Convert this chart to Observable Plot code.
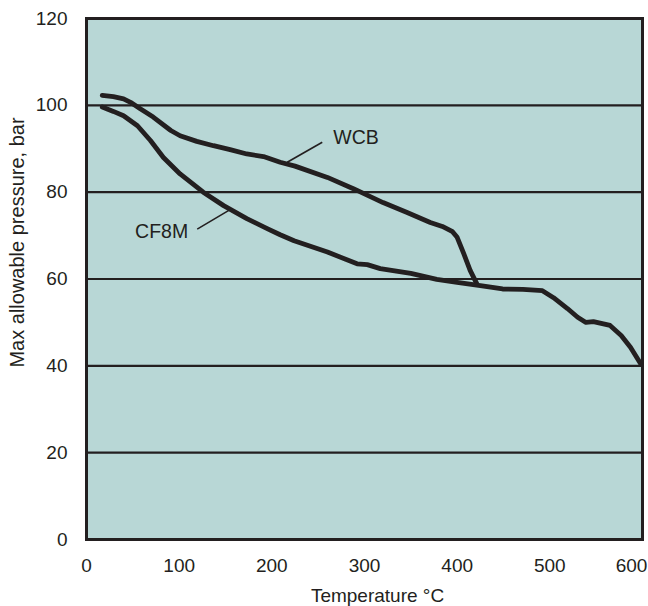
<!DOCTYPE html>
<html>
<head>
<meta charset="utf-8">
<script src="https://cdn.jsdelivr.net/npm/d3@7"></script>
<script src="https://cdn.jsdelivr.net/npm/@observablehq/plot@0.6"></script>
<style>
  html, body { margin: 0; padding: 0; background: #ffffff; }
  #chart svg { display: block; }
</style>
</head>
<body>
<div id="chart"></div>
<script>
// Data (temperature °C, pressure bar)
const wcbTemp = [17, 29, 40, 47.5, 58, 72, 91, 101, 119, 137, 155, 173, 191, 209, 225, 260, 288, 300, 320, 346, 371, 384, 395, 400, 407, 414, 421];
const wcbPress = [102.3, 102, 101.5, 100.7, 99.2, 97.3, 94.2, 93, 91.7, 90.7, 89.8, 88.8, 88.2, 86.9, 86, 83.4, 80.8, 79.6, 77.6, 75.3, 73, 72.1, 70.9, 69.6, 65.9, 62, 59];

const cf8mTemp = [17, 29, 40, 55, 69, 83, 101, 126, 148, 173, 195, 209, 224, 260, 292, 303, 317, 350, 378, 400, 425, 449, 471, 492, 504, 519, 530, 539, 547, 565, 577, 587, 598];
const cf8mPress = [99.6, 98.6, 97.6, 95.3, 91.9, 88, 84.2, 80, 76.9, 73.9, 71.6, 70.2, 68.8, 66.2, 63.5, 63.3, 62.4, 61.3, 59.9, 59.2, 58.5, 57.7, 57.6, 57.3, 55.7, 53.2, 51.2, 50, 50.2, 49.3, 47, 44.3, 40.5];

const xTicks = [0, 100, 200, 300, 400, 500];
const xLastTick = [600];
const yTicks = [0, 20, 40, 60, 80, 100, 120];
const gridLines = [20, 40, 60, 80, 100];

// Annotations (series label, text position, leader line ends)
const labelNames = ["WCB", "CF8M"];
const labelTemp = [290.8, 109.7];
const labelPress = [92.5, 70.9];
const labelAnchor = ["middle", "end"];
const leaderT1 = [254.4, 119.5];
const leaderP1 = [91.5, 71.5];
const leaderT2 = [216.6, 153.6];
const leaderP2 = [86.9, 75.8];

const wcb = wcbTemp.map((t, i) => ({t, p: wcbPress[i]}));
const cf8m = cf8mTemp.map((t, i) => ({t, p: cf8mPress[i]}));
const labels = labelNames.map((n, i) => ({n, t: labelTemp[i], p: labelPress[i], a: labelAnchor[i]}));
const leaders = labelNames.map((n, i) => ({x1: leaderT1[i], y1: leaderP1[i], x2: leaderT2[i], y2: leaderP2[i]}));

const ink = "#231f20";
const font = "Liberation Sans, Arial, Helvetica, sans-serif";

const chart = Plot.plot({
  width: 648,
  height: 606,
  marginLeft: 86,
  marginRight: 6,
  marginTop: 18,
  marginBottom: 67,
  style: {fontFamily: font, fontSize: "19px", color: ink, background: "#ffffff"},
  x: {domain: [0, 600]},
  y: {domain: [0, 120]},
  marks: [
    Plot.frame({fill: "#b8d7d6"}),
    Plot.ruleY(gridLines, {stroke: ink, strokeWidth: 2.2}),
    Plot.line(wcb, {x: "t", y: "p", stroke: ink, strokeWidth: 4.8, strokeLinejoin: "round"}),
    Plot.line(cf8m, {x: "t", y: "p", stroke: ink, strokeWidth: 4.8, strokeLinejoin: "round"}),
    Plot.link(leaders, {x1: "x1", y1: "y1", x2: "x2", y2: "y2", stroke: ink, strokeWidth: 1.6}),
    Plot.text(labels.filter(d => d.a === "middle"), {x: "t", y: "p", text: "n", textAnchor: "middle", lineAnchor: "middle", fill: ink, fontSize: 19.5}),
    Plot.text(labels.filter(d => d.a === "end"), {x: "t", y: "p", text: "n", textAnchor: "end", lineAnchor: "middle", fill: ink, fontSize: 19.5}),
    Plot.frame({stroke: ink, strokeWidth: 3}),
    Plot.axisX(xTicks, {tickSize: 0, tickPadding: 19, fill: ink, fontSize: 19, label: null}),
    Plot.axisX(xLastTick, {tickSize: 0, tickPadding: 19, dx: -11, fill: ink, fontSize: 19, label: null}),
    Plot.axisY(yTicks, {tickSize: 0, tickPadding: 19, fill: ink, fontSize: 19, label: null}),
    Plot.text(["Temperature °C"], {frameAnchor: "bottom", textAnchor: "middle", lineAnchor: "middle", dx: 13, dy: 56.4, fill: ink, fontSize: 19}),
    Plot.text(["Max allowable pressure, bar"], {frameAnchor: "left", textAnchor: "middle", lineAnchor: "middle", dx: -68.5, dy: -36.5, rotate: -90, fill: ink, fontSize: 20})
  ]
});
document.getElementById("chart").appendChild(chart);
</script>
</body>
</html>
